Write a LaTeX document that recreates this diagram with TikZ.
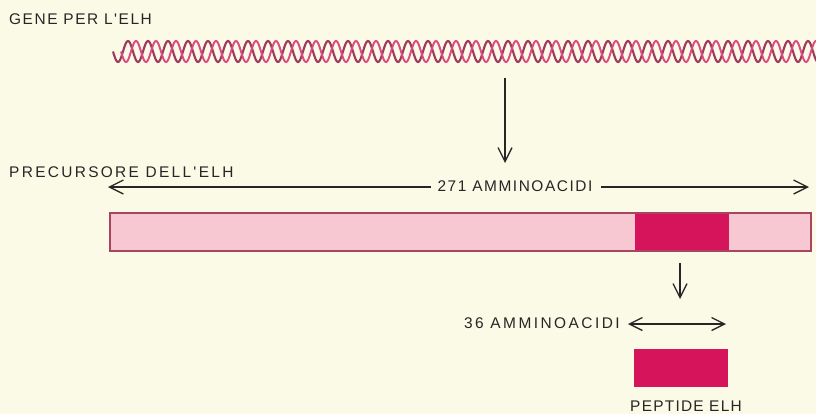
\documentclass[tikz,border=0pt]{standalone}
\usepackage{fontspec}
\newfontfamily\lab{Liberation Sans}
\usetikzlibrary{arrows.meta}
\definecolor{bgc}{HTML}{FAFAE6}
\definecolor{ink}{HTML}{262626}
\definecolor{lightpink}{HTML}{F7C8D2}
\definecolor{pepcol}{HTML}{D6145C}
\definecolor{edgec}{HTML}{A8445F}
\definecolor{strandA}{HTML}{9E3A5C}
\definecolor{strandB}{HTML}{DC4A82}
\begin{document}
\begin{tikzpicture}[x=1bp,y=-1bp,
  lbl/.style={font=\lab\fontsize{15.5}{17}\selectfont, text=ink, inner sep=0pt},
  conn/.style={draw=ink, line width=1.3bp},
  arrend/.style={-{Straight Barb[length=14bp,width=14bp,line width=1.3bp]}},
  arrboth/.style={{Straight Barb[length=13bp,width=13bp,line width=1.3bp]}-{Straight Barb[length=13bp,width=13bp,line width=1.3bp]}},
  box/.style={inner sep=0pt, outer sep=0pt, anchor=north west}]
\fill[bgc] (0,0) rectangle (816,414);
\useasboundingbox (0,0) rectangle (816,414);
\clip (0,0) rectangle (816,414);
% labels
\node[lbl, anchor=base west] (genelbl) at (9,24) {\addfontfeature{LetterSpace=10}GENE PER L'ELH};
\node[lbl, anchor=base west] (preclbl) at (9,177) {\addfontfeature{LetterSpace=15}PRECURSORE DELL'ELH};
\node[lbl, anchor=base] (n271) at (515,191) {\addfontfeature{LetterSpace=10}271 AMMINOACIDI};
\node[lbl, anchor=base east] (n36) at (620,328) {\addfontfeature{LetterSpace=16}36 AMMINOACIDI};
\node[lbl, anchor=base] (peplbl) at (686,411.5) {\addfontfeature{LetterSpace=8}PEPTIDE ELH};
% helix
\draw[strandA, line width=2.1bp] plot[domain=113:822, samples=1000] (\x, {51.5 + 10.5*sin((\x-113)*18)});
\draw[strandB, line width=1.9bp] plot[domain=121:822, samples=1000] (\x, {51.5 + 10.5*sin((\x-121)*18)});
% coordinates
\coordinate (helixbot) at (505,78);
\coordinate (downtip) at (505,163);
\coordinate (L271) at (108,187);
\coordinate (R271) at (809,187);
\coordinate (l271) at (431,187);
\coordinate (r271) at (601,187);
% arrows
\draw[conn, arrend] (helixbot) -- (downtip);
\draw[conn, arrend] (l271) -- (L271);
\draw[conn, arrend] (r271) -- (R271);
% precursor bar
\node[box, fill=lightpink, minimum width=701bp, minimum height=38bp] (prec) at (110,213) {};
\node[box, fill=pepcol, minimum width=94bp, minimum height=38bp] (seg) at (635,213) {};
\draw[edgec, line width=1.5bp] (prec.north west) rectangle (prec.south east);
% small arrow
\coordinate (segbot) at (680,263);
\coordinate (smalltip) at (680,299);
\draw[conn, arrend] (segbot) -- (smalltip);
\coordinate (L36) at (628,324);
\coordinate (R36) at (726,324);
\draw[conn, arrboth] (L36) -- (R36);
% peptide
\node[box, fill=pepcol, minimum width=94bp, minimum height=38bp] (pep) at (634,349) {};
\end{tikzpicture}
\end{document}
